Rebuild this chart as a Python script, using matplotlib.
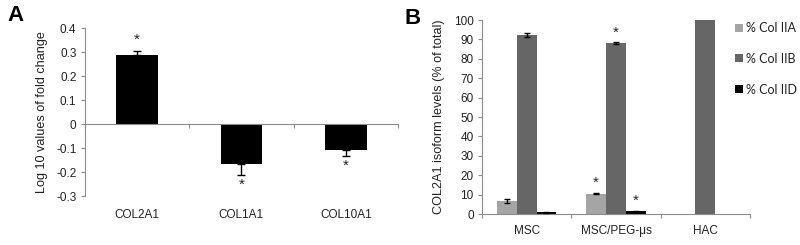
import matplotlib
matplotlib.use("Agg")
import matplotlib.pyplot as plt
import numpy as np
from matplotlib.patches import Patch
import matplotlib.transforms as mtransforms

plt.rcParams['font.family'] = ['Liberation Sans', 'DejaVu Sans']

# Panel A data
genes = ["COL2A1", "COL1A1", "COL10A1"]
log_fc = [0.29, -0.168, -0.107]
log_fc_err = [0.015, 0.046, 0.024]
log_fc_sig = [True, True, True]
a_yticks = [0.4, 0.3, 0.2, 0.1, 0, -0.1, -0.2, -0.3]

# Panel B data
groups = ["MSC", "MSC/PEG-\u03bcs", "HAC"]
series = ["% Col IIA", "% Col IIB", "% Col IID"]
col_iia = [6.5, 10.5, 0.2]
col_iia_err = [1.0, 0.35, 0.0]
col_iib = [92.3, 88.0, 100.0]
col_iib_err = [0.8, 0.5, 0.0]
col_iid = [0.8, 1.3, 0.0]
col_iid_err = [0.2, 0.3, 0.0]
sig_iia = [False, True, False]
sig_iib = [False, True, False]
sig_iid = [False, True, False]
b_yticks = [0, 10, 20, 30, 40, 50, 60, 70, 80, 90, 100]

colors = ["#a5a5a5", "#666666", "#000000"]
axis_col = "#8c8c8c"
txt_col = "#222222"
tick_fs = 8.5
lab_fs = 9.1
star_fs = 11

fig = plt.figure(figsize=(8, 2.45), dpi=100)

# ---------- Panel A ----------
axA = fig.add_axes([0.106, 0.200, 0.3915, 0.684])
x = np.arange(len(genes))
lower = [e if v < 0 else 0 for v, e in zip(log_fc, log_fc_err)]
upper = [e if v >= 0 else 0 for v, e in zip(log_fc, log_fc_err)]
axA.bar(x, log_fc, width=0.4, color="black", zorder=2)
axA.errorbar(x, log_fc, yerr=[lower, upper], fmt="none", ecolor="black",
             elinewidth=1, capsize=3, capthick=1, zorder=3)
axA.set_xlim(-0.5, 2.5)
axA.set_ylim(-0.3, 0.4)
axA.set_yticks(a_yticks)
axA.set_yticklabels([("%g" % t) for t in a_yticks], fontsize=tick_fs, color=txt_col)
for s in ["top", "right"]:
    axA.spines[s].set_visible(False)
axA.spines["left"].set_color(axis_col)
axA.spines["bottom"].set_color(axis_col)
axA.spines["bottom"].set_position(("data", 0))
axA.set_xticks([-0.5, 0.5, 1.5, 2.5])
axA.set_xticklabels([])
axA.tick_params(axis="x", direction="out", length=3, color=axis_col)
axA.tick_params(axis="y", direction="out", length=3, color=axis_col, pad=3)
transA = mtransforms.blended_transform_factory(axA.transData, axA.transAxes)
for xi, g in zip(x, genes):
    axA.text(xi, -0.114, g, transform=transA, ha="center", va="center",
             fontsize=tick_fs, color=txt_col)
for xi, v, e, s in zip(x, log_fc, log_fc_err, log_fc_sig):
    if s:
        if v >= 0:
            axA.annotate("*", (xi, v + e), xytext=(0, 3), textcoords="offset points",
                         ha="center", va="bottom", fontsize=star_fs, color=txt_col)
        else:
            axA.annotate("*", (xi, v - e), xytext=(0, -2), textcoords="offset points",
                         ha="center", va="top", fontsize=star_fs, color=txt_col)
axA.set_ylabel("Log 10 values of fold change", fontsize=lab_fs, color=txt_col, labelpad=6)
fig.text(0.009, 0.935, "A", fontsize=16, fontweight="bold", ha="left", va="center")

# ---------- Panel B ----------
axB = fig.add_axes([0.6025, 0.1265, 0.335, 0.7915])
xb = np.arange(len(groups))
w = 0.222
vals = [col_iia, col_iib, col_iid]
errs = [col_iia_err, col_iib_err, col_iid_err]
sigs = [sig_iia, sig_iib, sig_iid]
for i, (v, e, s, c) in enumerate(zip(vals, errs, sigs, colors)):
    pos = xb + (i - 1) * w
    axB.bar(pos, v, width=w, color=c, zorder=2)
    for p, vv, ee in zip(pos, v, e):
        if ee > 0:
            axB.errorbar([p], [vv], yerr=[ee], fmt="none", ecolor="black",
                         elinewidth=1, capsize=2.5, capthick=1, zorder=3)
    for p, vv, ee, ss in zip(pos, v, e, s):
        if ss:
            axB.annotate("*", (p, vv + ee), xytext=(0, 2), textcoords="offset points",
                         ha="center", va="bottom", fontsize=star_fs, color=txt_col)
axB.set_xlim(-0.5, 2.5)
axB.set_ylim(0, 100)
axB.set_yticks(b_yticks)
axB.set_yticklabels([str(t) for t in b_yticks], fontsize=tick_fs, color=txt_col)
for s in ["top", "right"]:
    axB.spines[s].set_visible(False)
axB.spines["left"].set_color(axis_col)
axB.spines["bottom"].set_color(axis_col)
axB.set_xticks([-0.5, 0.5, 1.5, 2.5])
axB.set_xticklabels([])
axB.tick_params(axis="x", direction="out", length=3, color=axis_col)
axB.tick_params(axis="y", direction="out", length=3, color=axis_col, pad=3)
transB = mtransforms.blended_transform_factory(axB.transData, axB.transAxes)
for xi, g in zip(xb, groups):
    axB.text(xi, -0.088, g, transform=transB, ha="center", va="center",
             fontsize=tick_fs, color=txt_col)
axB.set_ylabel("COL2A1 isoform levels (% of total)", fontsize=lab_fs, color=txt_col, labelpad=6)
fig.text(0.505, 0.925, "B", fontsize=16, fontweight="bold", ha="left", va="center")

handles = [Patch(facecolor=c, edgecolor="none") for c in colors]
leg = fig.legend(handles, series, loc="upper left", bbox_to_anchor=(0.919, 0.91),
                 frameon=False, handlelength=0.6, handleheight=0.6, handletextpad=0.3,
                 labelspacing=1.5, borderpad=0, borderaxespad=0,
                 prop={"family": ["Lato", "DejaVu Sans"], "size": 9})
for t in leg.get_texts():
    t.set_color(txt_col)

fig.savefig("out.png", dpi=100)
